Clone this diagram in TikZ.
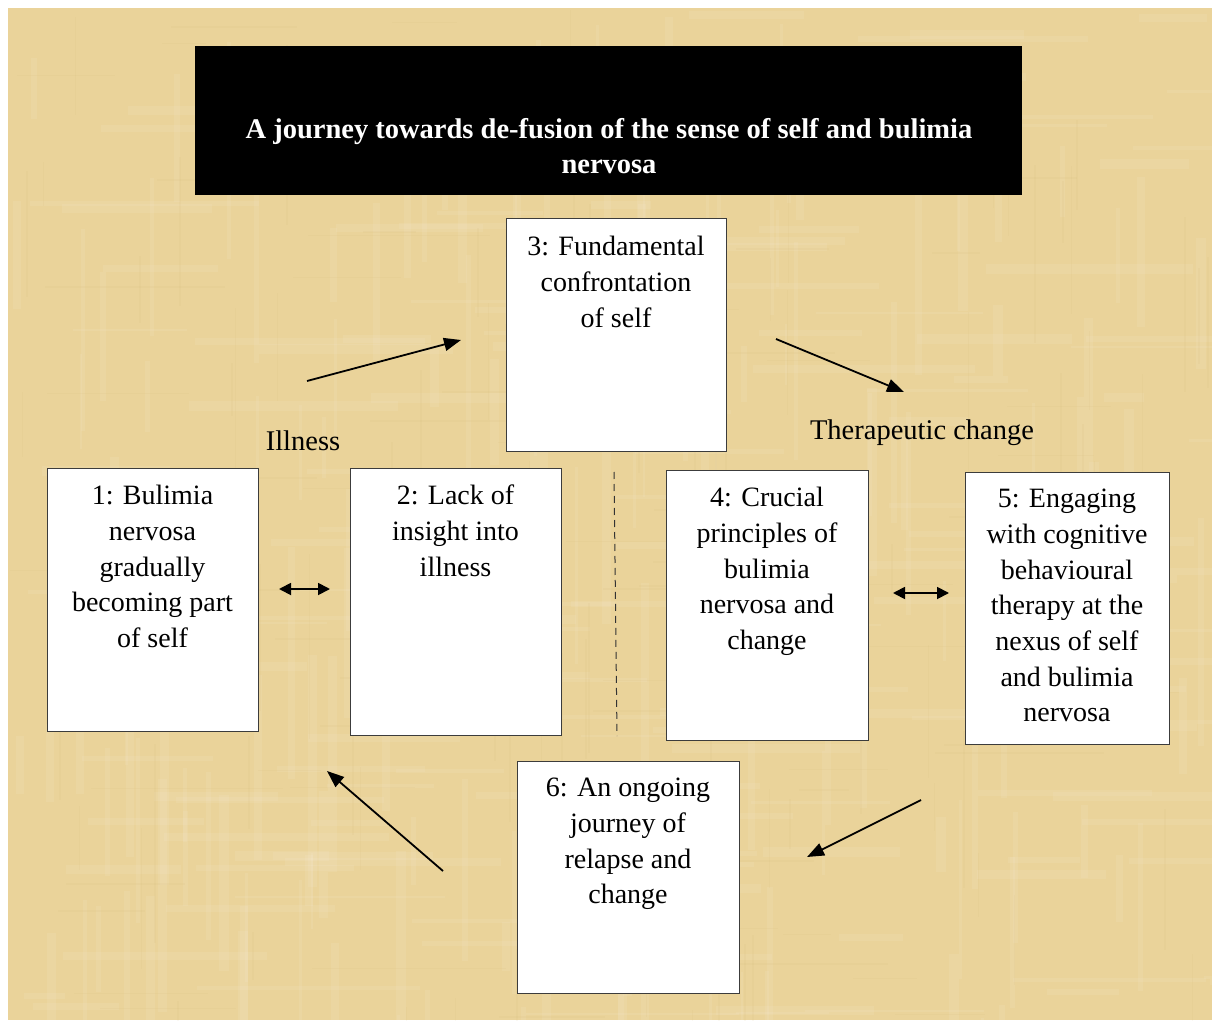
\documentclass[tikz,border=0pt]{standalone}
\usepackage{fontspec}
\setmainfont{Liberation Serif}
\usetikzlibrary{arrows.meta}
\definecolor{parch}{RGB}{234,211,154}
\definecolor{parchdark}{RGB}{200,170,100}
\definecolor{boxline}{RGB}{60,60,60}
\begin{document}
\begin{tikzpicture}[x=1pt,y=-1pt,
  boxtext/.style={anchor=north,inner sep=0,align=center,font=\fontsize{28}{35.7}\selectfont},
  flow/.style={line width=1.8pt,-{Triangle[length=17pt,width=13pt]}},
  twoway/.style={line width=1.8pt,{Triangle[length=12pt,width=12pt]}-{Triangle[length=12pt,width=12pt]}},
  lbl/.style={font=\fontsize{28.5}{34}\selectfont,inner sep=0},
  boxframe/.style={draw=boxline,line width=1pt,fill=white}]
\useasboundingbox (0,0) rectangle (1218,1024);
\fill[white] (0,0) rectangle (1218,1024);
\fill[parch] (8,8) rectangle (1212,1020);
% parchment texture
\pgfmathsetseed{7}
\begin{scope}
\clip (8,8) rectangle (1212,1020);
\foreach \i in {1,...,160}{
  \pgfmathsetmacro{\xx}{8+rnd*1204}
  \pgfmathsetmacro{\yy}{8+rnd*1012}
  \pgfmathsetmacro{\ll}{40+rnd*200}
  \pgfmathsetmacro{\ww}{2+rnd*8}
  \fill[white,opacity=0.07] (\xx,\yy) rectangle ++(\ww,\ll);
}
\foreach \i in {1,...,160}{
  \pgfmathsetmacro{\xx}{8+rnd*1204}
  \pgfmathsetmacro{\yy}{8+rnd*1012}
  \pgfmathsetmacro{\ll}{40+rnd*200}
  \pgfmathsetmacro{\ww}{2+rnd*8}
  \fill[white,opacity=0.07] (\xx,\yy) rectangle ++(\ll,\ww);
}
\foreach \i in {1,...,90}{
  \pgfmathsetmacro{\xx}{8+rnd*1204}
  \pgfmathsetmacro{\yy}{8+rnd*1012}
  \pgfmathsetmacro{\ll}{40+rnd*160}
  \fill[parchdark,opacity=0.07] (\xx,\yy) rectangle ++(1.5,\ll);
  \fill[parchdark,opacity=0.07] (\yy,\xx) rectangle ++(\ll,1.5);
}
\end{scope}
% title
\node[fill=black,minimum width=827pt,minimum height=149pt,inner sep=0] (title) at (608.5,120.5) {};
\node[inner sep=0,align=center,text=white,font=\bfseries\fontsize{28.5}{35}\selectfont] (titletext) at (609,146) {A journey towards de-fusion of the sense of self and bulimia\\nervosa};
% boxes
\draw[boxframe] (47,468) rectangle (258,731);
\coordinate (b1top) at (152.5,468);
\node[boxtext] (t1) at ([yshift=-17pt]b1top) {1: Bulimia\\nervosa\\gradually\\becoming part\\of self};
\draw[boxframe] (350,468) rectangle (561,735);
\coordinate (b2top) at (455.5,468);
\node[boxtext] (t2) at ([yshift=-17pt]b2top) {2: Lack of\\insight into\\illness};
\draw[boxframe] (506,219) rectangle (726,451);
\coordinate (b3top) at (616,219);
\node[boxtext] (t3) at ([yshift=-17pt]b3top) {3: Fundamental\\confrontation\\of self};
\draw[boxframe] (666,470) rectangle (868,740);
\coordinate (b4top) at (767,470);
\node[boxtext] (t4) at ([yshift=-17pt]b4top) {4: Crucial\\principles of\\bulimia\\nervosa and\\change};
\draw[boxframe] (965,472) rectangle (1169,744);
\coordinate (b5top) at (1067,472);
\node[boxtext] (t5) at ([yshift=-17pt]b5top) {5: Engaging\\with cognitive\\behavioural\\therapy at the\\nexus of self\\and bulimia\\nervosa};
\draw[boxframe] (517,761) rectangle (739,993);
\coordinate (b6top) at (628,761);
\node[boxtext] (t6) at ([yshift=-17pt]b6top) {6: An ongoing\\journey of\\relapse and\\change};
% labels
\node[lbl] (ill) at (303,441) {Illness};
\node[lbl] (ther) at (922,433) {Therapeutic change};
% arrows
\coordinate (a1s) at (307,381); \coordinate (a1e) at (461,340);
\coordinate (a2s) at (776,339); \coordinate (a2e) at (904,392);
\coordinate (a3s) at (921,800); \coordinate (a3e) at (807,857);
\coordinate (a4s) at (443,871); \coordinate (a4e) at (327,771);
\draw[flow] (a1s) -- (a1e);
\draw[flow] (a2s) -- (a2e);
\draw[flow] (a3s) -- (a3e);
\draw[flow] (a4s) -- (a4e);
\coordinate (d1a) at (279,589); \coordinate (d1b) at (330,589);
\coordinate (d2a) at (893,593); \coordinate (d2b) at (949,593);
\draw[twoway] (d1a) -- (d1b);
\draw[twoway] (d2a) -- (d2b);
\coordinate (dash1) at (614,472); \coordinate (dash2) at (617,736);
\draw[line width=1pt,dash pattern=on 7pt off 5pt,black!80] (dash1) -- (dash2);
\end{tikzpicture}
\end{document}
